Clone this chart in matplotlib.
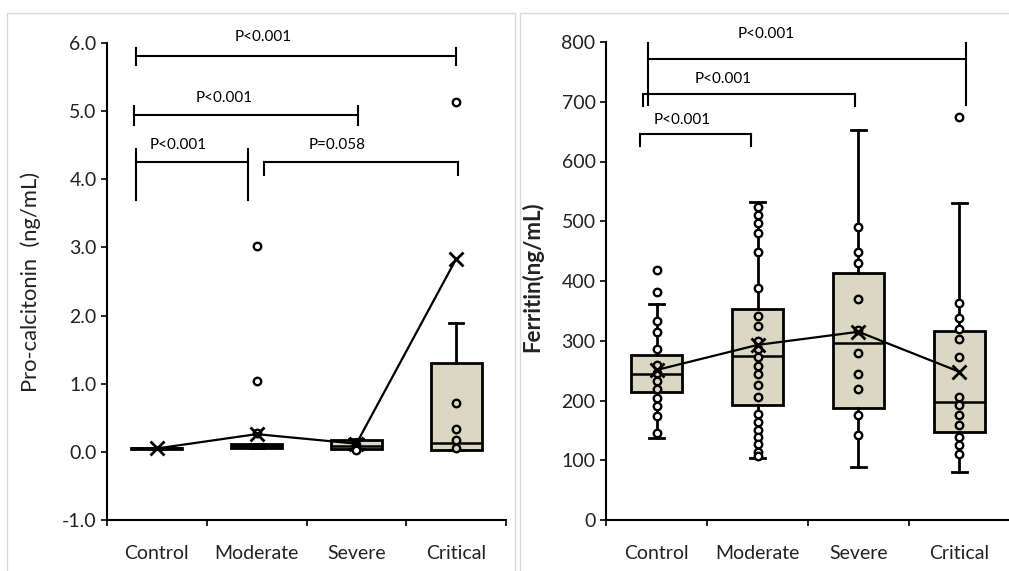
import matplotlib
matplotlib.use("Agg")
import matplotlib.pyplot as plt
from matplotlib.patches import Rectangle
import numpy as np

plt.rcParams['font.family'] = ['Lato', 'DejaVu Sans']

categories = ["Control", "Moderate", "Severe", "Critical"]

# ---- Pro-calcitonin (ng/mL) ----
pct_q1 = [0.04, 0.05, 0.04, 0.03]
pct_med = [0.05, 0.08, 0.08, 0.13]
pct_q3 = [0.06, 0.12, 0.17, 1.30]
pct_lo = [0.04, 0.05, 0.04, 0.02]
pct_hi = [0.06, 0.12, 0.19, 1.89]
pct_mean = [0.05, 0.26, 0.12, 2.83]
pct_points = [[], [3.02, 1.04, 0.28], [0.10, 0.03], [5.13, 0.72, 0.34, 0.18, 0.05]]
pct_ticks = [-1.0, 0.0, 1.0, 2.0, 3.0, 4.0, 5.0, 6.0]

# ---- Ferritin (ng/mL) ----
fer_q1 = [214, 192, 188, 148]
fer_med = [245, 275, 297, 197]
fer_q3 = [276, 353, 414, 316]
fer_lo = [138, 103, 89, 81]
fer_hi = [361, 532, 652, 530]
fer_mean = [251, 293, 315, 248]
fer_points = [
    [418, 382, 333, 314, 286, 259, 246, 233, 219, 204, 191, 174, 146],
    [524, 510, 497, 481, 449, 388, 341, 324, 300, 286, 273, 257, 244, 226, 206,
     177, 164, 151, 139, 127, 114, 107],
    [491, 449, 430, 370, 318, 279, 245, 220, 176, 142],
    [675, 363, 338, 320, 303, 273, 206, 192, 176, 159, 139, 125, 111],
]
fer_ticks = [0, 100, 200, 300, 400, 500, 600, 700, 800]

# significance annotations: (x_left, x_right, y_bar, left tick (lo,hi), right tick (lo,hi), text, text_x, text_y)
pct_sig = [
    (0.79, 4.00, 5.81, (5.67, 5.93), (5.67, 5.93), "P<0.001", 2.07, 6.09),
    (0.77, 3.02, 4.95, (4.80, 5.08), (4.80, 5.08), "P<0.001", 1.67, 5.20),
    (0.79, 1.91, 4.25, (3.70, 4.44), (3.70, 4.44), "P<0.001", 1.21, 4.50),
    (2.07, 4.02, 4.25, (4.06, 4.25), (4.06, 4.25), "P=0.058", 2.81, 4.50),
]
fer_sig = [
    (0.92, 4.06, 771, (695, 798), (695, 798), "P<0.001", 2.09, 813),
    (0.87, 2.97, 713, (693, 713), (693, 713), "P<0.001", 1.66, 738),
    (0.84, 1.94, 646, (626, 646), (626, 646), "P<0.001", 1.25, 669),
]

BOX_FC = "#DAD7C2"
W, H = 1009, 571
fig = plt.figure(figsize=(W / 100, H / 100), dpi=100)

# panel frames
for (x0, x1) in [(7, 515), (520, 1012)]:
    fig.add_artist(Rectangle((x0 / W, -0.05), (x1 - x0) / W, (H - 13) / H + 0.05,
                             transform=fig.transFigure, fill=False,
                             edgecolor="#D9D9D9", lw=1.0))

axL = fig.add_axes([107 / W, 1 - 520 / H, (506 - 107) / W, (520 - 43) / H])
axR = fig.add_axes([606 / W, 1 - 520 / H, (1010 - 606) / W, (520 - 42) / H])


def draw(ax, q1, med, q3, lo, hi, mean, pts, ticks, ylim, fmt, sig, ylabel,
         ylabel_weight, ylabel_size):
    pos = np.arange(1, len(categories) + 1)
    stats = []
    for i in range(len(categories)):
        stats.append(dict(med=med[i], q1=q1[i], q3=q3[i], whislo=lo[i], whishi=hi[i],
                          mean=mean[i], fliers=[]))
    ax.bxp(stats, positions=pos, widths=0.51, patch_artist=True, showfliers=False,
           showmeans=False,
           boxprops=dict(facecolor=BOX_FC, edgecolor="black", linewidth=2.0),
           medianprops=dict(color="black", linewidth=1.8),
           whiskerprops=dict(color="black", linewidth=2.0),
           capprops=dict(color="black", linewidth=2.0),
           capwidths=0.14, zorder=2)
    ax.plot(pos, mean, color="black", lw=1.6, zorder=3)
    for i, p in enumerate(pts):
        for v in p:
            fc = BOX_FC if q1[i] <= v <= q3[i] else "white"
            ax.plot(pos[i], v, marker="o", ms=5.4, mfc=fc, mec="black", mew=1.7,
                    zorder=4, clip_on=False)
    ax.plot(pos, mean, ls="none", marker="x", ms=10, mew=2.0, color="black", zorder=5)

    ax.set_xlim(0.5, len(categories) + 0.5)
    ax.set_ylim(*ylim)
    ax.set_yticks(ticks)
    ax.set_yticklabels([fmt.format(t) for t in ticks])
    ax.set_xticks(np.arange(0.5, len(categories) + 1, 1.0))
    ax.set_xticklabels([])
    ax.set_xticks(pos, minor=True)
    ax.set_xticklabels(categories, minor=True)
    ax.tick_params(axis="x", which="minor", length=0, pad=18, labelsize=14, colors="#222222")
    ax.tick_params(axis="x", which="major", length=4.5, width=1.2, direction="out")
    ax.tick_params(axis="y", length=4.5, width=1.2, direction="out", labelsize=14,
                   colors="#222222", pad=3)
    ax.tick_params(axis="both", which="both", color="black")
    for s in ["top", "right"]:
        ax.spines[s].set_visible(False)
    for s in ["left", "bottom"]:
        ax.spines[s].set_linewidth(1.5)
    ax.set_facecolor("none")
    ax.set_ylabel(ylabel, fontsize=ylabel_size, color="#222222", fontweight=ylabel_weight)

    for (xl, xr, yb, lt, rt, txt, tx, ty) in sig:
        ax.plot([xl, xr], [yb, yb], color="black", lw=1.5, clip_on=False, zorder=6)
        ax.plot([xl, xl], lt, color="black", lw=1.5, clip_on=False, zorder=6)
        ax.plot([xr, xr], rt, color="black", lw=1.5, clip_on=False, zorder=6)
        ax.text(tx, ty, txt, ha="center", va="center", fontsize=11, color="black",
                clip_on=False)


draw(axL, pct_q1, pct_med, pct_q3, pct_lo, pct_hi, pct_mean, pct_points, pct_ticks,
     (-1.0, 6.0), "{:.1f}", pct_sig, "Pro-calcitonin  (ng/mL)", "normal", 15.8)
draw(axR, fer_q1, fer_med, fer_q3, fer_lo, fer_hi, fer_mean, fer_points, fer_ticks,
     (0, 800), "{:.0f}", fer_sig, "Ferritin(ng/mL)", "bold", 16)
axL.yaxis.set_label_coords(-0.165, 0.5)
axR.yaxis.set_label_coords(-0.156, 0.51)

fig.savefig("out.png", dpi=100)
